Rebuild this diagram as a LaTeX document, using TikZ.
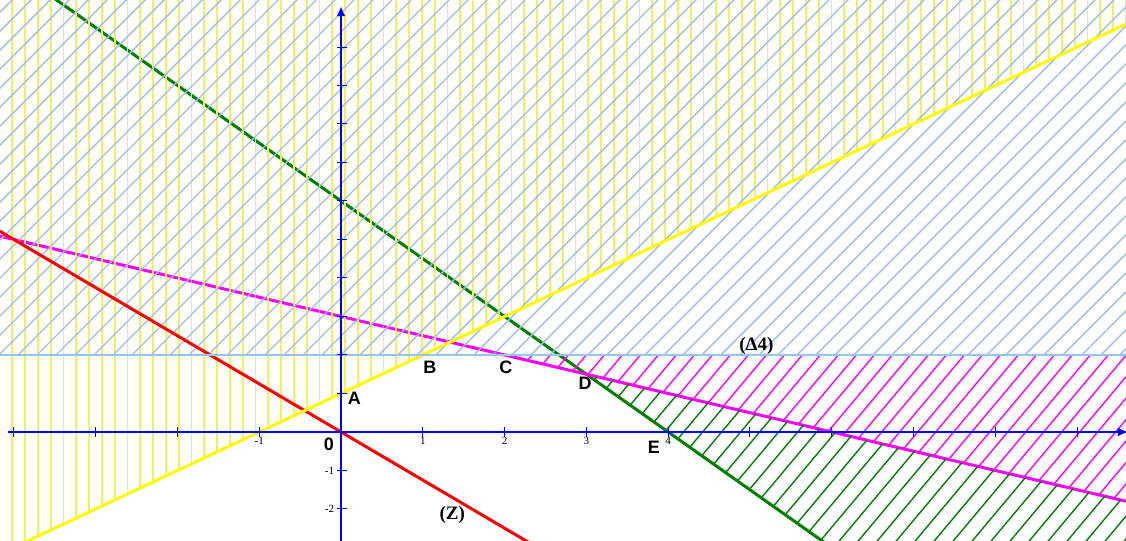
\documentclass[tikz,border=0pt]{standalone}
\usepackage{fontspec}
\usepackage{tikz}
\usetikzlibrary{arrows.meta,calc}
\newfontfamily\ptfont{Liberation Sans}
\newfontfamily\capfont{Liberation Serif}
\definecolor{axisblue}{RGB}{0, 0, 255}
\definecolor{lineyellow}{RGB}{255, 250, 0}
\definecolor{hatchyellow}{RGB}{245, 240, 90}
\definecolor{hatchblue}{RGB}{160, 190, 225}
\definecolor{deltablue}{RGB}{155, 195, 235}
\definecolor{linemagenta}{RGB}{255, 0, 255}
\definecolor{linegreen}{RGB}{0, 128, 0}
\definecolor{linered}{RGB}{255, 0, 0}

\begin{document}
\begin{tikzpicture}[x=40.9pt,y=19.25pt,
    bigline/.style={line width=1.5pt},
    hatchline/.style={line width=0.7pt},
    ptlabel/.style={font=\ptfont\bfseries\fontsize{9}{10}\selectfont,inner sep=0pt},
    eqlabel/.style={font=\capfont\bfseries\fontsize{9.5}{10}\selectfont,inner sep=0pt},
    ticklabel/.style={font=\capfont\fontsize{5.5}{6}\selectfont,inner sep=0pt}]
    \useasboundingbox (-4.169,-2.831) rectangle (9.597,11.221);
    \clip (-4.169,-2.831) rectangle (9.597,11.221);
    % corners
    \coordinate (O) at (0,0);
    \coordinate (A) at (0,1);
    \coordinate (B) at (1,2);
    \coordinate (C) at (2,2);
    \coordinate (D) at (3,1.5);
    \coordinate (E) at (4,0);
    % lines under the hatching
    \draw[bigline,linegreen] (-3.53,11.3) -- (D) -- (E) -- (5.93,-2.9);
    \draw[bigline,linemagenta] (-4.2,5.1) -- (C) -- (D) -- (9.6,-1.8);
    % hatched half-planes
    \begin{scope}
        \clip (-4.2,-3.2) -- (A) -- (9.6,10.6) -- (9.6,11.3) -- (-4.2,11.3) -- cycle;
        \foreach \i in {-164.35,-157.95,...,393}
            \draw[hatchyellow,line width=0.9pt] (\i pt,-60pt) -- (\i pt,220pt);
    \end{scope}
    \begin{scope}
        \clip (-4.2,2) rectangle (9.6,11.3);
        \foreach \i in {-450,-440.5,...,300}
            \draw[hatchline,hatchblue] (\i pt,-60pt) -- ++(300pt,300pt);
    \end{scope}
    \begin{scope}
        \clip (C) -- (9.6,-1.8) -- (9.6,2) -- cycle;
        \foreach \i in {-50,-41,...,420}
            \draw[hatchline,linemagenta] (\i pt,-60pt) -- ++(250pt,298pt);
    \end{scope}
    \begin{scope}
        \clip (D) -- (5.93,-2.9) -- (9.6,-2.9) -- (9.6,-1.8) -- cycle;
        \foreach \i in {-50,-40.5,...,420}
            \draw[hatchline,linegreen] (\i pt,-60pt) -- ++(250pt,298pt);
    \end{scope}
    % boundary lines on top
    \draw[bigline,linered] (-4.2,5.25) -- (O) -- (2.32,-2.9);
    \draw[bigline,lineyellow] (-4.2,-3.2) -- (A) -- (B) -- (9.6,10.6);
    \draw[deltablue,line width=1.2pt] (-4.2,2) -- (B) -- (C) -- (9.6,2);
    % axes
    \draw[axisblue,line width=1pt,-{Latex[length=5pt,width=4.5pt]}] (-4.07,0) -- (9.62,0);
    \draw[axisblue,line width=1pt,-{Latex[length=5pt,width=4.5pt]}] (0,-2.9) -- (0,11.06);
    \foreach \t in {-4,-3,-2,-1,1,2,3,4,5,6,7,8,9}
        \draw[axisblue,line width=0.5pt] (\t,0) ++(0,-2.5pt) -- ++(0,5pt);
    \foreach \t in {-2,-1,1,2,3,4,5,6,7,8,9,10}
        \draw[axisblue,line width=0.5pt] (0,\t) ++(-2pt,0) -- ++(5pt,0);
    \foreach \t/\n in {-1/m1,1/p1,2/p2,3/p3,4/p4}
        \node[ticklabel] (tx\n) at (\t,-0.24) {\t};
    \foreach \t/\n in {-1/m1,-2/m2}
        \node[ticklabel] (ty\n) at (-0.14,\t) {\t};
    % labels
    \node[ptlabel] (labO) at (-0.147,-0.319) {0};
    \node[ptlabel] (labA) at (0.163,0.875) {A};
    \node[ptlabel] (labB) at (1.088,1.67) {B};
    \node[ptlabel] (labC) at (2.017,1.67) {C};
    \node[ptlabel] (labD) at (2.983,1.265) {D};
    \node[ptlabel] (labE) at (3.826,-0.397) {E};
    \node[eqlabel] (labZ) at (1.361,-2.156) {(Z)};
    \node[eqlabel] (labDelta) at (5.078,2.244) {(Δ4)};
\end{tikzpicture}
\end{document}
